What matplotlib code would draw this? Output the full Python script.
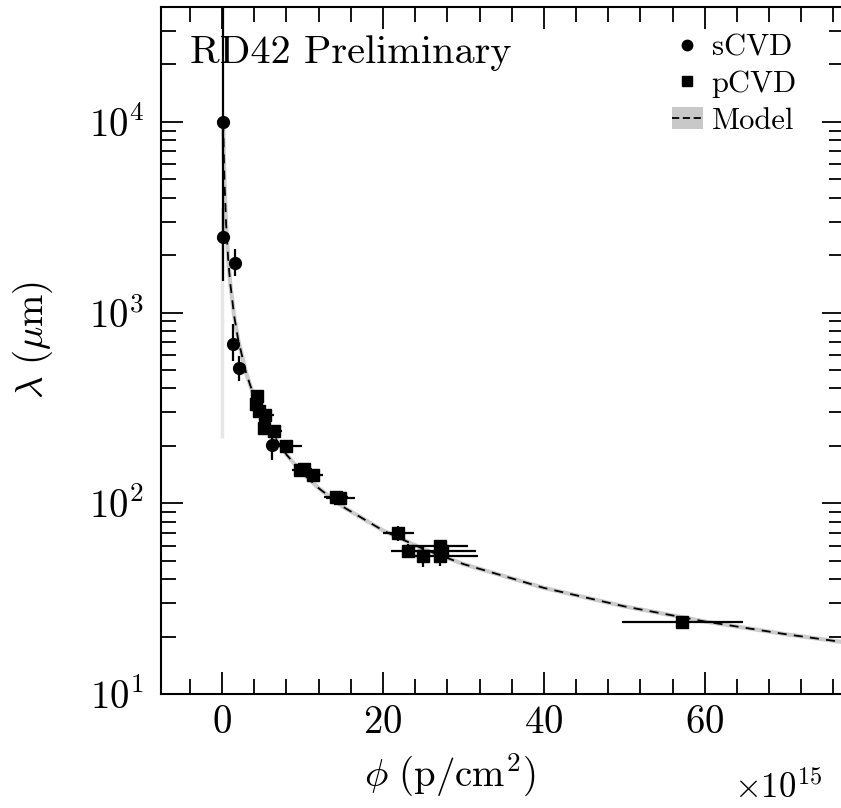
import numpy as np
import matplotlib
matplotlib.use("Agg")
import matplotlib.pyplot as plt
from matplotlib.lines import Line2D
from matplotlib.patches import Patch
from matplotlib.ticker import MultipleLocator, LogLocator

plt.rcParams['font.family'] = 'serif'
plt.rcParams['font.serif'] = ['cmr10']
plt.rcParams['mathtext.fontset'] = 'cm'
plt.rcParams['axes.formatter.use_mathtext'] = True

# sCVD (circles), phi in 1e15 p/cm^2, lambda in um
phi_s = [0.1, 0.1, 1.6, 1.4, 2.15, 6.15]
lam_s = [10000, 2500, 1815, 681, 514, 203]
lam_s_lo = [7500, 1034, 260, 124, 77, 34]
lam_s_hi = [40000, 1034, 350, 188, 77, 34]

# pCVD (squares)
phi_p = [4.3, 4.2, 4.6, 5.3, 5.2, 6.4, 7.9, 9.7, 10.2, 11.3, 14.2, 14.7,
         21.9, 23.1, 25.0, 27.1, 27.3, 27.1, 57.2]
lam_p = [365, 330, 304, 292, 249, 239, 199, 150, 152, 141, 108, 106,
         69.8, 56.4, 53.1, 59.4, 56.0, 52.8, 23.9]
xerr_p = [0.6, 0.6, 0.7, 1.2, 0.8, 1.0, 2.0, 1.0, 1.0, 1.25, 1.5, 1.8,
          1.9, 2.1, 1.0, 3.5, 4.2, 4.7, 7.5]
yerr_p = [25, 20, 18, 18, 15, 15, 12, 9, 9, 8, 6, 6,
          6, 5, 7, 4, 4, 6, 1.2]

# model curve
phi_m = [0.13, 0.2, 0.3, 0.5, 0.75, 1.0, 1.5, 2.0, 3.0, 4.0, 5.0, 6.0, 8.0,
         10, 12, 15, 20, 25, 30, 40, 50, 60, 70, 78]
lam_m = [10000, 7000, 4800, 2900, 1920, 1440, 960, 720, 480, 360, 288, 240,
         180, 144, 120, 96, 72, 57.6, 48, 36, 28.8, 24, 20.6, 18.5]

# faint model band at phi ~ 0
band_phi = 0.0
band_lo, band_hi = 220, 2500

fig = plt.figure(figsize=(8.41, 8.08), dpi=100)
ax = fig.add_axes([0.1914, 0.1411, 0.8121, 0.8502])

ax.vlines(band_phi, band_lo, band_hi, color='#e6e6e6', lw=2.5, zorder=1)
ax.plot(phi_m, lam_m, color='#cccccc', lw=3.0, zorder=2)
ax.plot(phi_m, lam_m, color='black', lw=1.3, ls=(0, (5, 4)), zorder=3)

ax.errorbar(phi_s, lam_s, yerr=[lam_s_lo, lam_s_hi], fmt='o', color='black',
            ms=8.5, elinewidth=1.6, capsize=0, zorder=4)
ax.errorbar(phi_p, lam_p, xerr=xerr_p, yerr=yerr_p, fmt='s', color='black',
            ms=8.0, elinewidth=1.6, capsize=0, zorder=4)

ax.set_yscale('log')
ax.set_xlim(-7.6, 77.3)
ax.set_ylim(10, 40000)
ax.xaxis.set_major_locator(MultipleLocator(20))
ax.xaxis.set_minor_locator(MultipleLocator(4))
ax.yaxis.set_major_locator(LogLocator(base=10, numticks=10))
ax.yaxis.set_minor_locator(LogLocator(base=10, subs=np.arange(2, 10), numticks=20))
ax.tick_params(which='both', direction='in', top=True, right=True, width=1.3,
               labelsize=28)
ax.tick_params(which='major', length=16)
ax.tick_params(which='minor', length=11)
ax.tick_params(axis='x', pad=8)
ax.tick_params(axis='y', pad=12)
for s in ax.spines.values():
    s.set_linewidth(1.5)

fig.text(33 / 841, 1 - 340 / 808, r'$\lambda\ (\mu\mathrm{m})$', rotation=90,
         ha='center', va='center', fontsize=28)
fig.text(450 / 841, 1 - 775 / 808, r'$\phi\ (\mathrm{p/cm}^2)$',
         ha='center', va='center', fontsize=28)
fig.text(778 / 841, 3 / 808, r'$\times10^{15}$',
         ha='center', va='bottom', fontsize=25)
fig.text(190 / 841, 1 - 63 / 808, 'RD42 Preliminary', fontsize=29,
         va='baseline', ha='left')

handles = [Line2D([], [], marker='o', ls='none', color='black', ms=7.5),
           Line2D([], [], marker='s', ls='none', color='black', ms=7.5),
           (Patch(facecolor='#c8c8c8', edgecolor='none'),
            Line2D([], [], color='black', lw=1.3, ls=(0, (4, 2))))]
fig.legend(handles, ['sCVD', 'pCVD', 'Model'], loc='upper left',
           bbox_to_anchor=(672 / 841, 1 - 34 / 808), frameon=False,
           fontsize=22, handlelength=1.0, handletextpad=0.3, borderpad=0,
           labelspacing=0.3, borderaxespad=0)

fig.savefig('out.png', dpi=100)
